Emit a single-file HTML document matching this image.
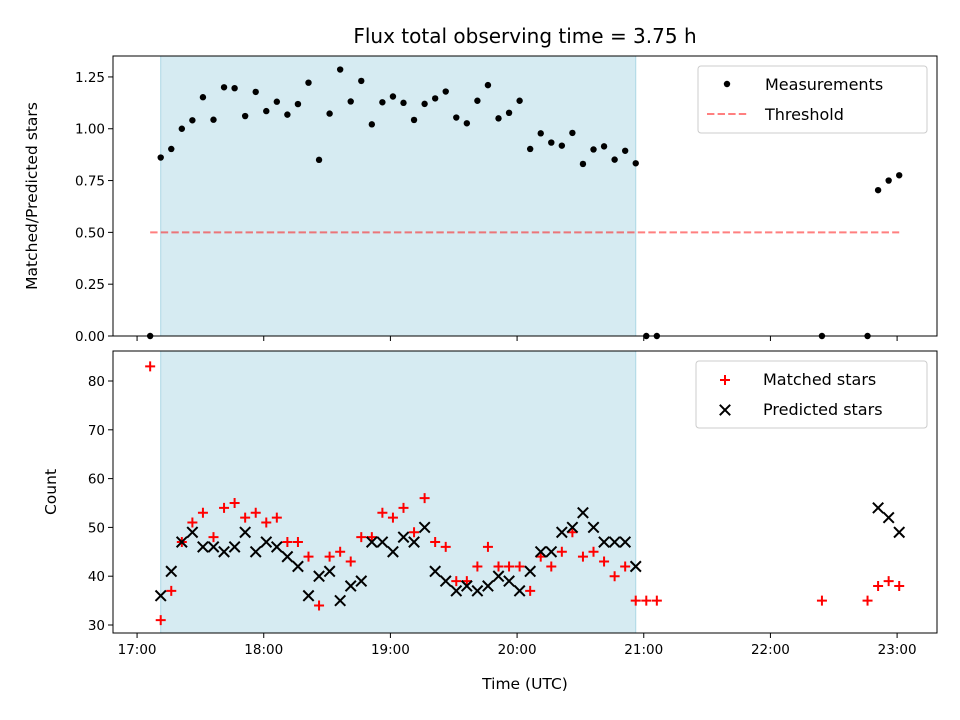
<!DOCTYPE html>
<html><head><meta charset="utf-8"><style>
html,body{margin:0;padding:0;background:#fff;}
svg{display:block;font-family:"DejaVu Sans","Liberation Sans",sans-serif;}
</style></head><body>
<svg id="chart" width="960" height="720" viewBox="0 0 960 720" xmlns="http://www.w3.org/2000/svg"></svg>
<script>
// minutes after 17:00 UTC
const times = [6.2, 11.2,16.2,21.2,26.2,31.2,36.2,41.2,46.2,51.2,56.2,61.2,66.2,71.2,76.2,81.2,86.2,91.2,96.2,101.2,106.2,111.2,116.2,
 121.2,126.2,131.2,136.2,141.2,146.2,151.2,156.2,161.2,166.2,171.2,176.2,181.2,186.2,191.2,196.2,201.2,206.2,211.2,216.2,221.2,226.2,231.2,236.2,
 241.2,246.2, 324.4, 346, 351, 356, 361];
const matched = [83, 31,37,47,51,53,48,54,55,52,53,51,52,47,47,44,34,44,45,43,48,48,53,
 52,54,49,56,47,46,39,39,42,46,42,42,42,37,44,42,45,49,44,45,43,40,42,35,
 35,35, 35, 35, 38,39,38];
const predicted = [0, 36,41,47,49,46,46,45,46,49,45,47,46,44,42,36,40,41,35,38,39,47,47,
 45,48,47,50,41,39,37,38,37,38,40,39,37,41,45,45,49,50,53,50,47,47,47,42,
 0,0, 0, 0, 54,52,49];
const observeStart = 11.2, observeEnd = 236.2;
const threshold = 0.5;
const xTickLabels = ["17:00","18:00","19:00","20:00","21:00","22:00","23:00"];
const xTickMinutes = [0,60,120,180,240,300,360];
const topTicks = [0,0.25,0.5,0.75,1.0,1.25];
const botTicks = [30,40,50,60,70,80];

const svg = document.getElementById('chart');
const NS = 'http://www.w3.org/2000/svg';
function el(tag, attrs, parent){const e=document.createElementNS(NS,tag);for(const k in attrs)e.setAttribute(k,attrs[k]);(parent||svg).appendChild(e);return e;}
function txt(s, attrs, parent){const e=el('text',attrs,parent);e.textContent=s;return e;}

const L=113,R=937;
const xMin=-11.4, xMax=378.9;
const x = m => L + (m - xMin)/(xMax - xMin)*(R-L);
const T1=56,B1=336, y1Max=1.351;
const y1 = v => B1 - v/y1Max*(B1-T1);
const T2=351,B2=633, y2Min=28.36, y2Max=86.15;
const y2 = v => B2 - (v-y2Min)/(y2Max-y2Min)*(B2-T2);
const ratio = matched.map((m,i)=> predicted[i]>0 ? m/predicted[i] : 0);

const title = txt('Flux total observing time = 3.75 h',{x:525,y:43,'text-anchor':'middle','font-size':'20',fill:'#000'});



// ---- top panel
const g1 = el('g',{});


const sh1 = el('rect',{x:x(observeStart),y:T1,width:x(observeEnd)-x(observeStart),height:B1-T1,fill:'#add8e6','fill-opacity':0.5,stroke:'#add8e6','stroke-width':1},g1);


const thr = el('line',{x1:x(times[0]),x2:x(times[times.length-1]),y1:y1(threshold),y2:y1(threshold),stroke:'#ff0000','stroke-opacity':0.5,'stroke-width':2,'stroke-dasharray':'7.4,3.2'},g1);


ratio.forEach((r,i)=>{
  const c = el('circle',{cx:x(times[i]),cy:y1(r),r:3.2,fill:'#000'},g1);
  
  
});
el('rect',{x:L,y:T1,width:R-L,height:B1-T1,fill:'none',stroke:'#000','stroke-width':1},g1);
topTicks.forEach(v=>{
  const yy=y1(v);
  el('line',{x1:L-5,x2:L,y1:yy,y2:yy,stroke:'#000'},g1);
  const t=txt(v.toFixed(2),{x:L-8,y:yy+5,'text-anchor':'end','font-size':'13.5'},g1);
  
  
});
xTickMinutes.forEach(m=>{el('line',{x1:x(m),x2:x(m),y1:B1,y2:B1+5,stroke:'#000'},g1);});
const yl1 = txt('Matched/Predicted stars',{x:0,y:0,'text-anchor':'middle','font-size':'15.5',transform:`translate(37,${(T1+B1)/2}) rotate(-90)`},g1);


const lg1 = el('g',{},g1);


el('rect',{x:698,y:66,width:229,height:67,rx:3,fill:'#fff','fill-opacity':0.8,stroke:'#ccc'},lg1);
el('circle',{cx:727,cy:84,r:3.2,fill:'#000'},lg1);
txt('Measurements',{x:765,y:90,'font-size':'16'},lg1);
el('line',{x1:707,x2:747,y1:114,y2:114,stroke:'#ff0000','stroke-opacity':0.5,'stroke-width':2,'stroke-dasharray':'7.4,3.2'},lg1);
txt('Threshold',{x:765,y:120,'font-size':'16'},lg1);

// ---- bottom panel
const g2 = el('g',{});


const sh2 = el('rect',{x:x(observeStart),y:T2,width:x(observeEnd)-x(observeStart),height:B2-T2,fill:'#add8e6','fill-opacity':0.5,stroke:'#add8e6','stroke-width':1},g2);


function plus(cx,cy,p){const s=5;el('path',{d:`M${cx-s},${cy}H${cx+s}M${cx},${cy-s}V${cy+s}`,stroke:'#ff0000','stroke-width':2},p);}
function cross(cx,cy,p){const s=5.2;el('path',{d:`M${cx-s},${cy-s}L${cx+s},${cy+s}M${cx-s},${cy+s}L${cx+s},${cy-s}`,stroke:'#000','stroke-width':2},p);}
const mg = el('g',{},g2);


matched.forEach((m,i)=>{ if(m>y2Min) plus(x(times[i]),y2(m),mg); });
const pg = el('g',{},g2);


predicted.forEach((p,i)=>{ if(p>y2Min) cross(x(times[i]),y2(p),pg); });
el('rect',{x:L,y:T2,width:R-L,height:B2-T2,fill:'none',stroke:'#000','stroke-width':1},g2);
botTicks.forEach(v=>{
  const yy=y2(v);
  el('line',{x1:L-5,x2:L,y1:yy,y2:yy,stroke:'#000'},g2);
  const t=txt(String(v),{x:L-8,y:yy+5,'text-anchor':'end','font-size':'13.5'},g2);
  
  
});
xTickMinutes.forEach((m,i)=>{
  el('line',{x1:x(m),x2:x(m),y1:B2,y2:B2+5,stroke:'#000'},g2);
  const t=txt(xTickLabels[i],{x:x(m),y:B2+21,'text-anchor':'middle','font-size':'13.5'},g2);
  
  
});
const yl2 = txt('Count',{x:0,y:0,'text-anchor':'middle','font-size':'15.5',transform:`translate(56,${(T2+B2)/2}) rotate(-90)`},g2);


const xl = txt('Time (UTC)',{x:(L+R)/2,y:689,'text-anchor':'middle','font-size':'15.5'},g2);


const lg2 = el('g',{},g2);


el('rect',{x:696,y:361,width:231,height:67,rx:3,fill:'#fff','fill-opacity':0.8,stroke:'#ccc'},lg2);
plus(725,380,lg2);
txt('Matched stars',{x:763,y:385,'font-size':'16'},lg2);
cross(725,410,lg2);
txt('Predicted stars',{x:763,y:415,'font-size':'16'},lg2);
</script>
</body></html>
